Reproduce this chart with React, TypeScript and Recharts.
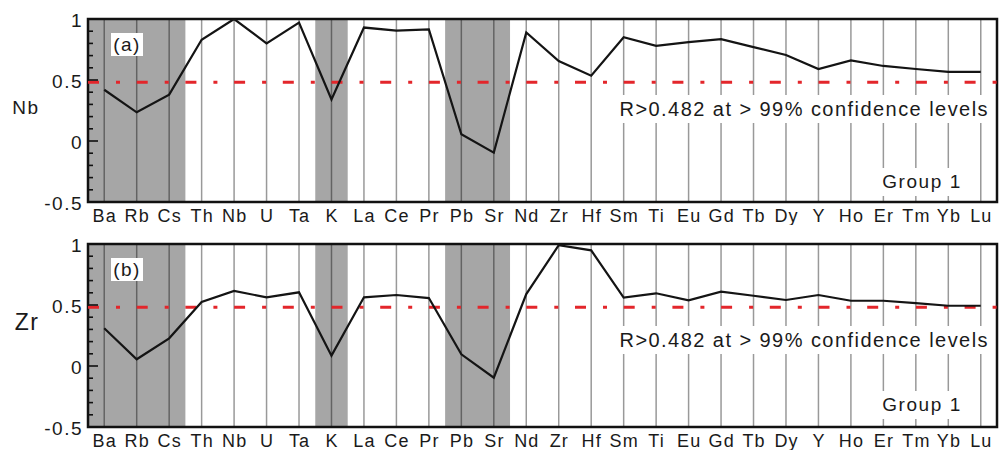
import React from "react";
import {
  LineChart,
  Line,
  XAxis,
  YAxis,
  CartesianGrid,
  ReferenceArea,
  ReferenceLine,
} from "recharts";

const categories = [
  "Ba", "Rb", "Cs", "Th", "Nb", "U", "Ta", "K", "La", "Ce", "Pr", "Pb", "Sr", "Nd",
  "Zr", "Hf", "Sm", "Ti", "Eu", "Gd", "Tb", "Dy", "Y", "Ho", "Er", "Tm", "Yb", "Lu",
];

const nbCorrelation = [
  0.42, 0.235, 0.38, 0.83, 1.0, 0.8, 0.97, 0.34, 0.93, 0.905, 0.915, 0.055, -0.095, 0.89,
  0.655, 0.535, 0.85, 0.78, 0.81, 0.835, 0.77, 0.705, 0.59, 0.66, 0.615, 0.59, 0.566, 0.566,
];

const zrCorrelation = [
  0.31, 0.055, 0.227, 0.525, 0.615, 0.563, 0.604, 0.085, 0.563, 0.582, 0.557, 0.096, -0.096, 0.59,
  0.99, 0.948, 0.56, 0.596, 0.538, 0.609, 0.576, 0.541, 0.582, 0.535, 0.535, 0.516, 0.494, 0.494,
];

const shadedGroups = [
  ["Ba", "Cs"],
  ["K", "K"],
  ["Pb", "Sr"],
];

const threshold = 0.482;
const thresholdText = "R>0.482 at > 99% confidence levels";
const groupText = "Group 1";

const yTicks = [-0.5, -0.4, -0.3, -0.2, -0.1, 0, 0.1, 0.2, 0.3, 0.4, 0.5, 0.6, 0.7, 0.8, 0.9, 1];
const yDomain = [-0.5, 1];

const FONT = '"Liberation Sans", Arial, Helvetica, sans-serif';
const TEXT = "#1a1a1a";

const data = categories.map((name, i) => ({
  i,
  name,
  nb: nbCorrelation[i],
  zr: zrCorrelation[i],
}));

const xTicks = categories.map((_, i) => i);

function XTick(props: any) {
  const { x, y, payload } = props;
  return (
    <text
      x={x + 0.6}
      y={y + 19.5}
      textAnchor="middle"
      fontSize={18}
      letterSpacing={1.2}
      fill={TEXT}
      fontFamily={FONT}
    >
      {categories[payload.value]}
    </text>
  );
}

function YTick(props: any) {
  const { x, y, payload } = props;
  const v = payload.value;
  const major = Math.abs(v * 2 - Math.round(v * 2)) < 1e-6;
  return (
    <g>
      <line x1={x} y1={y} x2={x + (major ? 10 : 5)} y2={y} stroke="#111" strokeWidth={1.6} />
      {major && (
        <text
          x={x - 5}
          y={y + 8}
          textAnchor="end"
          fontSize={19}
          letterSpacing={1.5}
          fill={TEXT}
          fontFamily={FONT}
        >
          {String(v)}
        </text>
      )}
    </g>
  );
}

function Panel({ dataKey }: { dataKey: string }) {
  return (
    <LineChart
      width={999}
      height={225}
      data={data}
      margin={{ top: 19, right: 2, bottom: 0, left: 0 }}
    >
      <CartesianGrid horizontal={false} vertical={true} stroke="#999" strokeWidth={1.5} />
      {shadedGroups.map(([a, b], k) => (
        <ReferenceArea
          key={k}
          x1={categories.indexOf(a) - 0.5}
          x2={categories.indexOf(b) + 0.5}
          y1={yDomain[0]}
          y2={yDomain[1]}
          fill="#000"
          fillOpacity={0.35}
          stroke="none"
        />
      ))}
      <XAxis
        dataKey="i"
        type="number"
        domain={[-0.5, categories.length - 0.5]}
        ticks={xTicks}
        interval={0}
        tickSize={0}
        tickMargin={0}
        tickLine={false}
        axisLine={false}
        height={23}
        tick={<XTick />}
        allowDataOverflow
      />
      <YAxis
        type="number"
        domain={yDomain}
        ticks={yTicks}
        interval={0}
        tickSize={0}
        tickMargin={0}
        tickLine={false}
        axisLine={false}
        width={88}
        tick={<YTick />}
        allowDataOverflow
      />
      <ReferenceLine
        y={threshold}
        stroke="#e3262b"
        strokeWidth={3}
        strokeDasharray="11 17 4 16.7"
      />
      <Line
        type="linear"
        dataKey={dataKey}
        stroke="#141414"
        strokeWidth={2.2}
        dot={false}
        isAnimationActive={false}
      />
      <ReferenceArea
        x1={-0.5}
        x2={categories.length - 0.5}
        y1={yDomain[0]}
        y2={yDomain[1]}
        fill="none"
        stroke="#111"
        strokeWidth={2.5}
      />
    </LineChart>
  );
}

const boxStyle: React.CSSProperties = {
  position: "absolute",
  background: "#fff",
  fontFamily: FONT,
  color: TEXT,
  whiteSpace: "nowrap",
};

export default function App() {
  return (
    <div
      style={{
        position: "absolute",
        left: 0,
        top: 0,
        width: 999,
        height: 450,
        background: "#fff",
        fontFamily: FONT,
      }}
    >
      <div style={{ position: "absolute", left: 0, top: 0 }}>
        <Panel dataKey="nb" />
      </div>
      <div style={{ position: "absolute", left: 0, top: 225 }}>
        <Panel dataKey="zr" />
      </div>

      {/* Panel (a) annotations */}
      <div style={{ ...boxStyle, background: "transparent", left: 6, width: 40, top: 94, lineHeight: "28px", fontSize: 19, letterSpacing: 1.5, textAlign: "center" }}>
        Nb
      </div>
      <div style={{ ...boxStyle, left: 111, top: 33, width: 32, height: 23, lineHeight: "23px", fontSize: 19, letterSpacing: 1.5, textAlign: "center" }}>
        (a)
      </div>
      <div style={{ ...boxStyle, right: 7, top: 95, lineHeight: "28px", fontSize: 20, letterSpacing: 1.45, padding: "0 3px 0 5px" }}>
        {thresholdText}
      </div>
      <div style={{ ...boxStyle, right: 33, top: 168, lineHeight: "28px", fontSize: 19, letterSpacing: 1.6, padding: "0 4px" }}>
        {groupText}
      </div>

      {/* Panel (b) annotations */}
      <div style={{ ...boxStyle, background: "transparent", left: 4, width: 46, top: 306, lineHeight: "32px", fontSize: 23, letterSpacing: 1.5, textAlign: "center" }}>
        Zr
      </div>
      <div style={{ ...boxStyle, left: 111, top: 258, width: 32, height: 23, lineHeight: "23px", fontSize: 19, letterSpacing: 1.5, textAlign: "center" }}>
        (b)
      </div>
      <div style={{ ...boxStyle, right: 7, top: 326, lineHeight: "28px", fontSize: 20, letterSpacing: 1.45, padding: "0 3px 0 5px" }}>
        {thresholdText}
      </div>
      <div style={{ ...boxStyle, right: 33, top: 391, lineHeight: "28px", fontSize: 19, letterSpacing: 1.6, padding: "0 4px" }}>
        {groupText}
      </div>
    </div>
  );
}
